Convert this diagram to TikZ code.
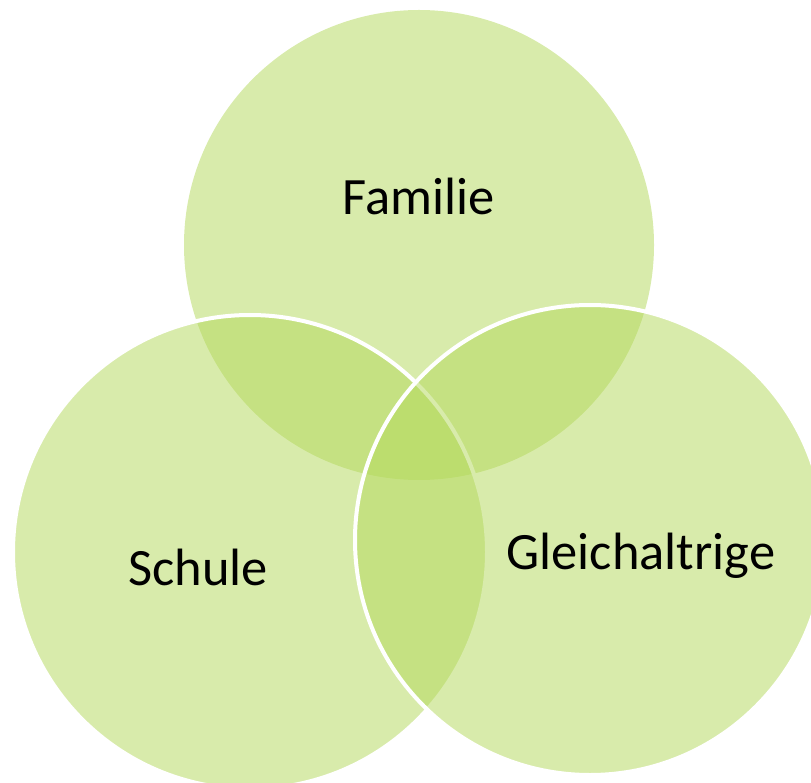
\documentclass[tikz,border=0pt]{standalone}
\usepackage{fontspec}
\setmainfont{Carlito}
\definecolor{venn}{RGB}{179,216,91}
\tikzset{
  vennfill/.style={fill=venn, fill opacity=0.51, draw=none},
  vennring/.style={fill=venn, fill opacity=0.51, draw=white, draw opacity=1, line width=4pt},
  lbl/.style={font=\fontsize{52.5}{60}\selectfont, text=black, inner sep=0pt}
}
\begin{document}
\begin{tikzpicture}[x=1pt,y=-1pt]
\useasboundingbox (0,0) rectangle (811,783);
\clip (0,0) rectangle (811,783);
\path[vennfill] (419,245) circle[radius=235];
\path[vennring] (250,552) circle[radius=237];
\path[vennring] (590,540) circle[radius=235];
\node[lbl] (familie) at (419,196) {Familie};
\node[lbl] (schule) at (198,567) {Schule};
\node[lbl] (gleich) at (641,556) {Gleichaltrige};
\end{tikzpicture}
\end{document}
